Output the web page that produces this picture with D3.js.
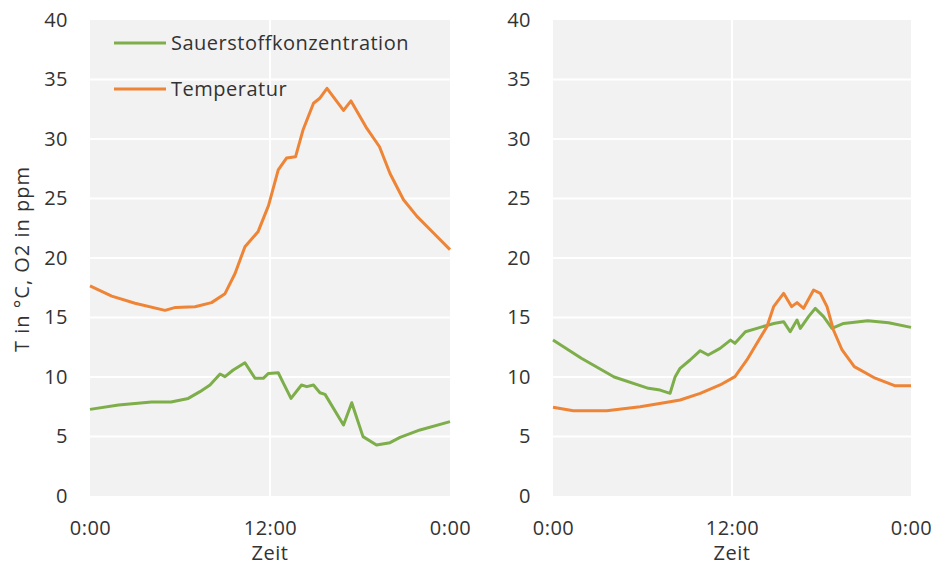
<!DOCTYPE html>
<html>
<head>
<meta charset="utf-8">
<script src="https://cdn.jsdelivr.net/npm/d3@7"></script>
<style>
  body { margin: 0; background: #fff; }
  svg text { font-family: "Open Sans", sans-serif; fill: #333; letter-spacing: 0.5px; }
</style>
</head>
<body>
<svg id="chart" width="935" height="567"></svg>
<script>
// y ticks and x ticks (hours)
const yTicks = [0, 5, 10, 15, 20, 25, 30, 35, 40];
const xTicks = [0, 12, 24];
const seriesNames = ["Sauerstoffkonzentration", "Temperatur"];

// left day
const leftTempHours = [0, 1.45, 3.0, 5.0, 5.7, 7.0, 8.1, 9.0, 9.67, 10.33, 11.2, 11.9, 12.55, 13.1, 13.7, 14.2, 14.9, 15.3, 15.8, 16.9, 17.4, 18.4, 19.3, 20.0, 20.9, 21.8, 22.9, 24];
const leftTemp = [17.65, 16.8, 16.2, 15.6, 15.85, 15.9, 16.25, 17.0, 18.7, 20.95, 22.2, 24.4, 27.4, 28.4, 28.5, 30.75, 33.0, 33.4, 34.26, 32.4, 33.2, 31.0, 29.35, 27.1, 24.9, 23.5, 22.1, 20.7];
const leftO2Hours = [0, 1.9, 4.1, 5.4, 6.55, 7.33, 8.0, 8.67, 9.0, 9.55, 10.33, 11.0, 11.55, 11.9, 12.55, 12.9, 13.4, 14.1, 14.45, 14.9, 15.33, 15.67, 16.9, 17.45, 18.2, 19.1, 20.0, 20.67, 22.0, 24];
const leftO2 = [7.28, 7.65, 7.9, 7.9, 8.2, 8.77, 9.33, 10.25, 10.03, 10.59, 11.2, 9.89, 9.89, 10.3, 10.36, 9.47, 8.2, 9.33, 9.19, 9.33, 8.68, 8.54, 5.97, 7.84, 4.99, 4.29, 4.48, 4.93, 5.55, 6.25];

// right day
const rightTempHours = [0, 1.36, 3.6, 5.84, 7.85, 8.52, 9.87, 11.2, 12.2, 13.0, 13.67, 14.34, 14.79, 15.46, 16.0, 16.36, 16.8, 17.47, 17.92, 18.37, 18.8, 19.38, 20.2, 21.6, 22.9, 24];
const rightTemp = [7.45, 7.17, 7.17, 7.5, 7.92, 8.07, 8.63, 9.33, 10.03, 11.43, 12.83, 14.23, 15.91, 17.03, 15.91, 16.25, 15.77, 17.31, 17.03, 15.91, 13.95, 12.27, 10.87, 9.9, 9.27, 9.27];
const rightO2Hours = [0, 1.9, 4.1, 6.4, 7.18, 7.85, 8.19, 8.52, 9.19, 9.87, 10.4, 11.2, 11.9, 12.2, 12.9, 13.67, 14.8, 15.46, 15.9, 16.36, 16.58, 17.13, 17.58, 18.14, 18.7, 19.48, 21.1, 22.5, 24];
const rightO2 = [13.1, 11.57, 10.0, 9.05, 8.9, 8.63, 10.03, 10.73, 11.43, 12.21, 11.85, 12.41, 13.1, 12.83, 13.8, 14.09, 14.5, 14.65, 13.8, 14.79, 14.09, 15.07, 15.77, 15.07, 14.09, 14.5, 14.73, 14.56, 14.17];

const colors = { o2: "#7dae4a", temp: "#ee8436" };

const svg = d3.select("#chart");
const plotTop = 20, plotBottom = 496;
const fontSize = 20;

function drawPanel(left, right, o2Hours, o2, tempHours, temp, showLegend) {
  const x = d3.scaleLinear().domain([0, 24]).range([left, right]);
  const y = d3.scaleLinear().domain([0, 40]).range([plotBottom, plotTop]);

  svg.append("rect")
    .attr("x", left).attr("y", plotTop)
    .attr("width", right - left).attr("height", plotBottom - plotTop)
    .attr("fill", "#f2f2f2");

  // gridlines
  svg.append("g").selectAll("line")
    .data(yTicks.filter(d => d > 0 && d < 40))
    .enter().append("line")
    .attr("x1", left).attr("x2", right)
    .attr("y1", d => y(d)).attr("y2", d => y(d))
    .attr("stroke", "#fff").attr("stroke-width", 2);
  svg.append("line")
    .attr("x1", x(12)).attr("x2", x(12))
    .attr("y1", plotTop).attr("y2", plotBottom)
    .attr("stroke", "#fff").attr("stroke-width", 2);

  const yAxis = svg.append("g")
    .attr("transform", "translate(" + (left - 22) + ",0)")
    .call(d3.axisLeft(y).tickValues(yTicks).tickSize(0));
  yAxis.select(".domain").remove();
  yAxis.selectAll("text").attr("font-size", fontSize).attr("x", 0);

  const xAxis = svg.append("g")
    .attr("transform", "translate(0," + (plotBottom + 25) + ")")
    .call(d3.axisBottom(x).tickValues(xTicks).tickSize(0)
      .tickFormat(d => (d % 24) + ":00"));
  xAxis.select(".domain").remove();
  xAxis.selectAll("text").attr("font-size", fontSize).attr("y", 0).attr("dy", "0.71em");

  svg.append("text")
    .attr("x", x(12)).attr("y", 560)
    .attr("text-anchor", "middle")
    .attr("font-size", fontSize)
    .text("Zeit");

  const line = d3.line().x(d => x(d[0])).y(d => y(d[1]));
  svg.append("path")
    .datum(d3.zip(o2Hours, o2))
    .attr("d", line)
    .attr("fill", "none").attr("stroke", colors.o2)
    .attr("stroke-width", 3).attr("stroke-linejoin", "round");
  svg.append("path")
    .datum(d3.zip(tempHours, temp))
    .attr("d", line)
    .attr("fill", "none").attr("stroke", colors.temp)
    .attr("stroke-width", 3).attr("stroke-linejoin", "round");

  if (showLegend) {
    const lg = svg.append("g");
    [colors.o2, colors.temp].forEach((c, i) => {
      const ly = 43 + i * 46;
      lg.append("line")
        .attr("x1", 114).attr("x2", 166)
        .attr("y1", ly).attr("y2", ly)
        .attr("stroke", c).attr("stroke-width", 3);
      lg.append("text")
        .attr("x", 171).attr("y", ly)
        .attr("dy", "0.35em")
        .attr("font-size", fontSize)
        .text(seriesNames[i]);
    });
  }
}

drawPanel(90, 450, leftO2Hours, leftO2, leftTempHours, leftTemp, true);
drawPanel(553, 911, rightO2Hours, rightO2, rightTempHours, rightTemp, false);

svg.append("text")
  .attr("transform", "translate(22,259) rotate(-90)")
  .attr("text-anchor", "middle")
  .attr("dy", "0.35em")
  .attr("font-size", fontSize)
  .style("letter-spacing", "1px")
  .text("T in °C, O2 in ppm");
</script>
</body>
</html>
